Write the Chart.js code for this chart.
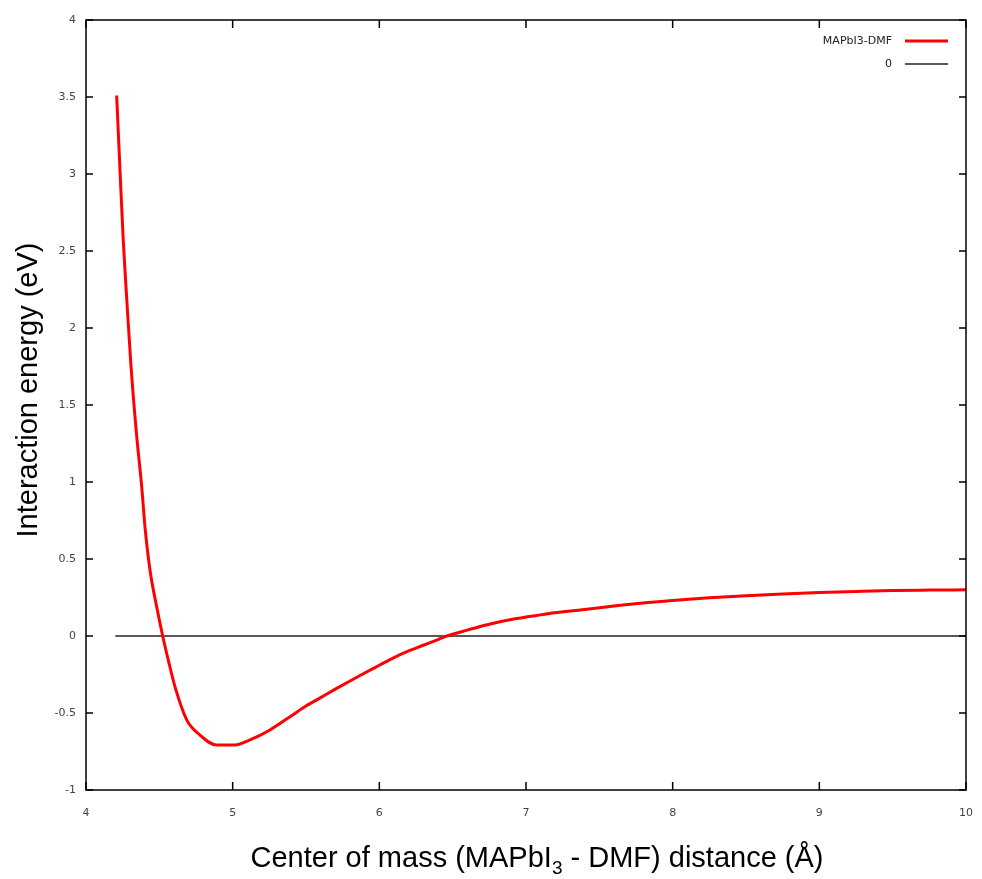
<!DOCTYPE html>
<html>
<head>
<meta charset="utf-8">
<script src="https://cdn.jsdelivr.net/npm/chart.js@4/dist/chart.umd.min.js"></script>
<style>
  html, body { margin: 0; padding: 0; background: #fff; }
  #wrap { width: 982px; height: 879px; position: relative; }
</style>
</head>
<body>
<div id="wrap"><canvas id="chart"></canvas></div>
<script>
// ===== data =====
const distance = [4.209, 4.232, 4.254, 4.277, 4.307, 4.346, 4.380, 4.402, 4.436, 4.482, 4.523,
  4.561, 4.607, 4.687, 4.777, 4.891, 5.016, 5.118, 5.254, 5.391, 5.50, 5.60, 5.70,
  5.80, 5.90, 6.00, 6.10, 6.20, 6.30, 6.40, 6.46, 6.60, 6.70, 6.80, 6.90, 7.00, 7.15, 7.40, 7.60,
  7.80, 8.00, 8.25, 8.50, 8.75, 9.00, 9.25, 9.50, 9.75, 10.0];
const energy = [3.51, 3.02, 2.57, 2.20, 1.75, 1.294, 0.969, 0.71, 0.43, 0.19, 0.00,
  -0.156, -0.33, -0.545, -0.643, -0.708, -0.708, -0.675, -0.61, -0.524, -0.455, -0.40, -0.345,
  -0.292, -0.24, -0.19, -0.14, -0.097, -0.06, -0.023, 0.00, 0.038, 0.065, 0.088, 0.107, 0.123, 0.145, 0.172, 0.195,
  0.215, 0.23, 0.248, 0.262, 0.273, 0.282, 0.289, 0.295, 0.298, 0.30];
const zeroX = [4.2, 10];
const zeroY = [0, 0];

const seriesLabels = ['MAPbI3-DMF', '0'];
const xRange = [4, 10];
const yRange = [-1, 4];

const toPoints = (xs, ys) => xs.map((x, i) => ({ x, y: ys[i] }));

// ===== frame, inward ticks, legend, axis titles =====
const gnuplotLook = {
  id: 'gnuplotLook',
  afterDraw(chart) {
    const { ctx, chartArea: a, scales } = chart;
    ctx.save();

    // frame
    ctx.strokeStyle = '#000';
    ctx.lineWidth = 1.5;
    ctx.strokeRect(a.left, a.top, a.right - a.left, a.bottom - a.top);

    // inward ticks, mirrored
    ctx.beginPath();
    scales.x.ticks.forEach(t => {
      const px = scales.x.getPixelForValue(t.value);
      ctx.moveTo(px, a.bottom); ctx.lineTo(px, a.bottom - 8);
      ctx.moveTo(px, a.top); ctx.lineTo(px, a.top + 8);
    });
    scales.y.ticks.forEach(t => {
      const py = scales.y.getPixelForValue(t.value);
      ctx.moveTo(a.left, py); ctx.lineTo(a.left + 7, py);
      ctx.moveTo(a.right, py); ctx.lineTo(a.right - 7, py);
    });
    ctx.stroke();

    // legend (text left, sample right)
    ctx.font = '11px "DejaVu Sans"';
    ctx.fillStyle = '#222';
    ctx.textAlign = 'right';
    ctx.textBaseline = 'middle';
    const rows = [41, 64];
    chart.data.datasets.forEach((ds, i) => {
      const y = rows[i];
      ctx.fillText(ds.label, 892, y);
      ctx.strokeStyle = ds.borderColor;
      ctx.lineWidth = ds.borderWidth;
      ctx.beginPath();
      ctx.moveTo(905, y); ctx.lineTo(948, y);
      ctx.stroke();
    });

    // y title
    ctx.fillStyle = '#000';
    ctx.font = '29px "Liberation Sans", Arial, sans-serif';
    ctx.textAlign = 'center';
    ctx.textBaseline = 'middle';
    ctx.save();
    ctx.translate(29, 390);
    ctx.rotate(-Math.PI / 2);
    ctx.fillText('Interaction energy (eV)', 0, 0);
    ctx.restore();

    // x title with subscript
    const parts = [
      { t: 'Center of mass (MAPbI', sub: false },
      { t: '3', sub: true },
      { t: ' - DMF) distance (Å)', sub: false }
    ];
    const big = '29px "Liberation Sans", Arial, sans-serif';
    const small = '19px "Liberation Sans", Arial, sans-serif';
    let total = 0;
    parts.forEach(p => { ctx.font = p.sub ? small : big; p.w = ctx.measureText(p.t).width; total += p.w; });
    let x = 537 - total / 2;
    const base = 867;
    ctx.textAlign = 'left';
    ctx.textBaseline = 'alphabetic';
    parts.forEach(p => {
      ctx.font = p.sub ? small : big;
      ctx.fillText(p.t, x, p.sub ? base + 7 : base);
      x += p.w;
    });

    ctx.restore();
  }
};

new Chart(document.getElementById('chart'), {
  type: 'line',
  data: {
    datasets: [
      {
        label: seriesLabels[0],
        data: toPoints(distance, energy),
        borderColor: '#ff0000',
        borderWidth: 3,
        pointRadius: 0,
        cubicInterpolationMode: 'monotone',
        fill: false
      },
      {
        label: seriesLabels[1],
        data: toPoints(zeroX, zeroY),
        borderColor: '#222222',
        borderWidth: 1.3,
        pointRadius: 0,
        tension: 0,
        fill: false
      }
    ]
  },
  options: {
    responsive: true,
    maintainAspectRatio: false,
    animation: false,
    layout: { padding: { left: 0, right: 16, top: 20, bottom: 0 } },
    plugins: { legend: { display: false }, tooltip: { enabled: false } },
    scales: {
      x: {
        type: 'linear',
        min: xRange[0],
        max: xRange[1],
        grid: { display: false, drawTicks: false },
        border: { display: false },
        ticks: { stepSize: 1, padding: 17, color: '#444', font: { family: 'DejaVu Sans', size: 11 }, maxRotation: 0 },
        afterFit(scale) {
          scale.height = 89;
          scale.paddingLeft = 0;
          scale.paddingRight = 0;
        }
      },
      y: {
        type: 'linear',
        min: yRange[0],
        max: yRange[1],
        grid: { display: false, drawTicks: false },
        border: { display: false },
        ticks: {
          stepSize: 0.5, padding: 10, color: '#444', font: { family: 'DejaVu Sans', size: 11 },
          callback: v => String(+v.toFixed(1))
        },
        afterFit(scale) { scale.width = 86; }
      }
    }
  },
  plugins: [gnuplotLook]
});
</script>
</body>
</html>
